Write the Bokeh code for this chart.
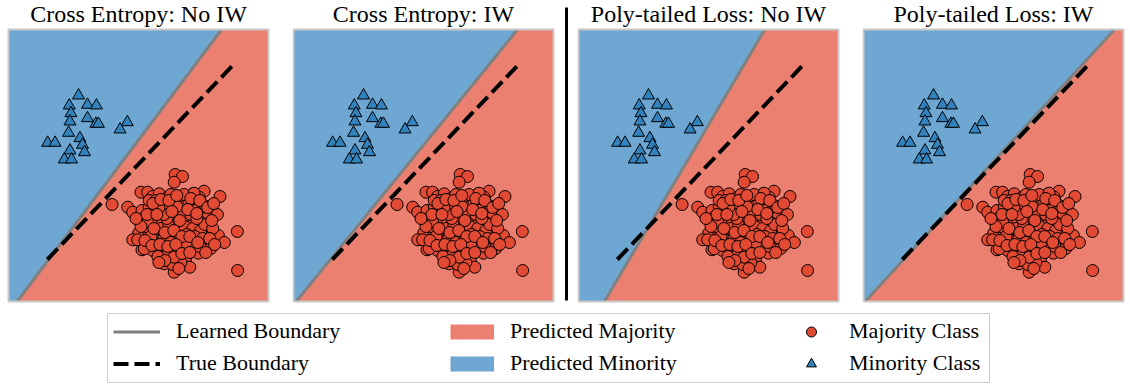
from bokeh.plotting import figure
from bokeh.layouts import row, column
from bokeh.models import Range1d, Legend, LegendItem
from bokeh.embed import file_html
from bokeh.resources import INLINE
from bokeh.core.properties import value

# ---------------- data ----------------
titles = ["Cross Entropy: No IW", "Cross Entropy: IW",
          "Poly-tailed Loss: No IW", "Poly-tailed Loss: IW"]

# learned boundary: x where it crosses the bottom (y=0) and top (y=Y_MAX) of the plot
learned_bottom_x = [0.87, 0.27, 2.6, 0.17]
learned_top_x = [21.4, 22.5, 18.7, 25.2]

# true boundary segment
true_x = [3.9, 22.5]
true_y = [4.2, 23.6]

X_MAX, Y_MAX = 26.1, 27.2

# minority class (triangles)
min_x = [7.03, 6.1, 7.93, 8.83, 6.27, 6.17, 7.93, 8.77, 9.03, 6.03,
         11.93, 11.2, 3.93, 4.67, 7.17, 7.43, 6.17, 7.63, 5.6, 6.33]
min_y = [20.6, 19.6, 19.67, 19.6, 18.83, 18.0, 18.33, 17.77, 17.77, 16.87,
         17.93, 17.2, 15.87, 15.87, 16.33, 15.67, 15.1, 14.93, 14.2, 14.2]

# majority class (circles)
maj_x = [16.73, 17.47, 16.63, 10.4, 11.97, 12.47, 13.3, 13.97, 14.47, 15.13,
         13.4, 13.47, 14.13, 14.97, 15.3, 15.97, 16.63, 16.8, 16.13, 13.07,
         12.47, 14.3, 15.07, 13.97, 13.4, 14.47, 15.13, 15.97, 16.13, 16.63,
         15.63, 16.63, 16.3, 15.13, 16.8, 14.13, 16.8, 21.23, 19.63, 18.53,
         17.73, 19.13, 17.53, 18.3, 19.63, 19.2, 19.97, 20.97, 22.97, 21.07,
         21.67, 20.07, 18.97, 18.2, 17.3, 19.87, 19.07, 17.8, 18.2, 17.3,
         23.0, 17.8, 18.63, 17.13, 18.8, 17.97,
         14.8, 15.5, 16.3, 17.1, 17.8, 18.8, 15.8, 16.5, 17.5, 18.3,
         19.3, 14.5, 15.3, 16.1, 16.9, 17.7, 18.5, 19.3, 14.3, 14.8,
         15.6, 16.4, 17.1, 17.9, 18.7, 19.5, 14.1, 15.3, 16.0, 16.9,
         17.6, 18.4, 19.2, 15.8, 17.3, 16.5, 15.0, 13.8, 18.1, 16.9,
         15.9, 18.7, 19.7, 20.5, 20.3, 17.8, 16.3, 15.6, 17.2, 15.1,
         14.3, 18.9,
         13.97, 12.97, 13.63, 16.63, 16.3, 17.63, 18.63,
         14.5, 15.3, 16.1, 16.9, 18.3, 19.2, 20.0, 20.4, 13.9, 14.9,
         16.4, 18.0, 18.9, 14.6, 15.7, 16.6, 17.4, 18.2, 19.0, 20.2,
         13.7, 14.4, 15.2, 16.0, 16.8, 17.4, 18.2, 15.7, 17.1, 15.1,
         19.8, 20.7, 13.3, 12.8, 20.6]
maj_y = [12.7, 12.5, 11.93, 9.7, 9.43, 8.93, 10.93, 10.93, 10.5, 10.77,
         9.1, 8.27, 9.43, 9.6, 8.27, 10.43, 9.93, 8.93, 8.77, 6.83,
         6.17, 7.1, 6.6, 5.93, 5.17, 5.1, 5.77, 6.77, 5.6, 4.6,
         3.77, 2.93, 4.1, 7.77, 7.77, 10.1, 6.1, 10.5, 11.03, 10.77,
         10.43, 10.43, 9.77, 9.43, 9.6, 8.93, 8.43, 8.7, 7.0, 6.6,
         5.9, 6.83, 7.03, 7.43, 6.93, 5.77, 4.83, 4.37, 3.43, 5.6,
         3.1, 8.27, 8.1, 8.77, 6.1, 6.1,
         10.1, 9.6, 9.6, 10.1, 9.6, 9.9, 9.1, 8.5, 8.9, 8.7,
         7.9, 8.7, 7.3, 7.6, 7.3, 7.5, 7.3, 7.1, 7.9, 6.1,
         6.3, 6.5, 6.5, 6.7, 6.5, 6.3, 6.9, 5.1, 5.1, 5.3,
         5.1, 5.5, 5.5, 4.5, 3.9, 3.7, 4.5, 7.5, 10.1, 9.5,
         8.3, 9.1, 7.7, 7.3, 5.3, 5.9, 5.9, 8.7, 8.1, 9.4,
         6.5, 8.3,
         7.93, 6.17, 5.27, 4.43, 10.7, 10.7, 10.83,
         9.8, 10.2, 10.1, 10.6, 10.3, 10.1, 9.4, 8.1, 8.7, 8.7,
         9.0, 9.2, 8.8, 7.3, 6.9, 7.1, 6.5, 6.5, 5.9, 6.3,
         6.1, 5.6, 5.7, 5.5, 5.7, 4.8, 4.9, 4.1, 3.3, 3.9,
         4.9, 5.7, 7.5, 8.3, 9.8]

MAJ_COLOR = "#e34a33"
MIN_COLOR = "#3182bd"
LEARN_COLOR = "#808080"
FONT = "Liberation Serif"

COMMON = dict(output_backend="svg", toolbar_location=None, title_location=None,
              x_axis_location=None, y_axis_location=None,
              min_border=0, min_border_left=0, min_border_right=0,
              min_border_top=0, min_border_bottom=0)

# ---------------- panels ----------------
DATA_W = 260      # px of plot area width
H = 304           # figure height; plot area spans canvas px 29..301
TOP_PX = 29


def panel(i, width, left_px):
    sx = DATA_W / X_MAX
    sy = 10.0
    p = figure(width=width, height=H,
               x_range=Range1d(-left_px / sx, (width - left_px) / sx),
               y_range=Range1d(Y_MAX - (H - TOP_PX) / sy, Y_MAX + TOP_PX / sy),
               outline_line_color=None, background_fill_color="white",
               border_fill_color="white", **COMMON)
    p.grid.visible = False
    xb, xt = learned_bottom_x[i], learned_top_x[i]
    p.patch([0, xb, xt, 0], [0, 0, Y_MAX, Y_MAX],
            fill_color=MIN_COLOR, fill_alpha=0.7, line_color=None)
    p.patch([xb, X_MAX, X_MAX, xt], [0, 0, Y_MAX, Y_MAX],
            fill_color=MAJ_COLOR, fill_alpha=0.7, line_color=None)
    p.line([xb, xt], [0, Y_MAX], line_color=LEARN_COLOR, line_width=3)
    p.line(true_x, true_y, line_color="black", line_width=4, line_dash="15 6")
    p.scatter(maj_x, maj_y, marker="circle", size=12, fill_color=MAJ_COLOR,
              line_color="black", line_width=1)
    p.scatter(min_x, min_y, marker="triangle", size=12, fill_color=MIN_COLOR,
              line_color="black", line_width=1)
    p.quad(left=[0], right=[X_MAX], bottom=[0], top=[Y_MAX], fill_color=None,
           line_color="#c8c8c8", line_width=2)
    p.text(x=[X_MAX / 2], y=[Y_MAX + 1.55], text=[titles[i]],
           text_align="center", text_baseline="alphabetic",
           text_font=value(FONT), text_font_size="24px", text_color="black")
    return p


pA = panel(0, 292, 8)
pB = panel(1, 264, 1)
pC = panel(2, 285, 1)
pD = panel(3, 266, 1)

# vertical separator between the "Cross Entropy" and "Poly-tailed" pairs
sep = figure(width=21, height=H, x_range=Range1d(0, 21), y_range=Range1d(0, H),
             outline_line_color=None, **COMMON)
sep.grid.visible = False
sep.segment(x0=[10], y0=[H - 300], x1=[10], y1=[H - 7], line_color="black",
            line_width=3)

# ---------------- legend ----------------
lf = figure(width=1128, height=85, x_range=Range1d(0, 1), y_range=Range1d(0, 1),
            output_backend="svg", toolbar_location=None, title_location=None,
            x_axis_location=None, y_axis_location=None,
            min_border_left=107, min_border_right=139, min_border_top=9,
            min_border_bottom=7, outline_line_color="#cccccc",
            outline_line_width=1)
lf.grid.visible = False
# off-screen sample glyphs (only their legend entries are visible)
off = [5, 6]
r_learn = lf.line(off, off, line_color=LEARN_COLOR, line_width=3)
r_true = lf.line(off, off, line_color="black", line_width=4, line_dash="15 6")
r_pmaj = lf.line(off, off, line_color=MAJ_COLOR, line_alpha=0.7, line_width=15)
r_pmin = lf.line(off, off, line_color=MIN_COLOR, line_alpha=0.7, line_width=15)
r_maj = lf.scatter(off, off, marker="circle", size=10, fill_color=MAJ_COLOR,
                   line_color="black", line_width=1)
r_min = lf.scatter(off, off, marker="triangle", size=10, fill_color=MIN_COLOR,
                   line_color="black", line_width=1)


def mk_legend(items, x, gw, standoff):
    return Legend(items=[LegendItem(label=l, renderers=[r]) for l, r in items],
                  location=(x, 6), orientation="vertical",
                  glyph_width=gw, glyph_height=25, label_height=25,
                  label_width=10, label_standoff=standoff, spacing=6,
                  padding=5, margin=0, border_line_color=None,
                  background_fill_alpha=0, label_text_font=FONT,
                  label_text_font_size="22px", label_text_color="black")


lf.add_layout(mk_legend([("Learned Boundary", r_learn), ("True Boundary", r_true)], 6, 47, 16))
lf.add_layout(mk_legend([("Predicted Majority", r_pmaj), ("Predicted Minority", r_pmin)], 343, 44, 16))
lf.add_layout(mk_legend([("Majority Class", r_maj), ("Minority Class", r_min)], 681, 46, 15))

layout = column(row(pA, pB, sep, pC, pD), lf)

open("out.html", "w").write(file_html(layout, INLINE))
